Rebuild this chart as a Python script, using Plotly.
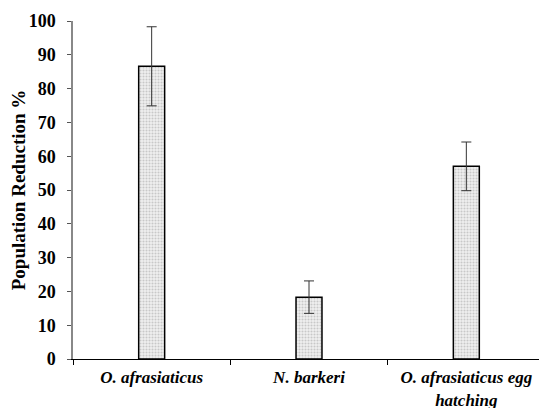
import plotly.graph_objects as go

categories = ["<i>O. afrasiaticus</i>", "<i>N. barkeri</i>", "<i>O. afrasiaticus egg</i><br><i>hatching</i>"]
values = [86.6, 18.3, 57.0]
errors = [11.7, 4.8, 7.2]
yticks = [0, 10, 20, 30, 40, 50, 60, 70, 80, 90, 100]

fig = go.Figure()
fig.add_trace(go.Bar(
    x=categories, y=values,
    width=0.165,
    marker=dict(
        color="white",
        line=dict(color="black", width=1.5),
        pattern=dict(shape=".", fgcolor="#a0a0a0", bgcolor="#f0f0f0", size=3, solidity=0.4),
    ),
    error_y=dict(type="data", array=errors, visible=True, color="#333333", thickness=1, width=5),
))

font = dict(family="Liberation Serif, Times New Roman, serif", color="black")
# page body has an 8px default margin, so the figure is sized/offset to fill the 547x408 window
fig.update_layout(
    width=539, height=400,
    margin=dict(l=65, r=2, t=13, b=49),
    plot_bgcolor="white", paper_bgcolor="white",
    showlegend=False,
    font=font,
)
fig.update_xaxes(
    type="category", tickson="boundaries", ticks="outside", ticklen=5, tickcolor="black",
    showline=True, linecolor="black", linewidth=1, showgrid=False, automargin=False,
    ticklabelstandoff=3,
    tickfont=dict(size=17, family="Liberation Serif", color="black", weight="bold"),
    range=[-0.5, 2.5],
)
fig.update_yaxes(
    range=[0, 100], tickvals=yticks, ticks="outside", ticklen=4, tickcolor="#555555",
    showline=True, linecolor="#888888", linewidth=1.5, showgrid=False, zeroline=False,
    ticklabelstandoff=8, automargin=False,
    tickfont=dict(size=18, family="Liberation Serif", color="black", weight="bold"),
    title=dict(text="Population Reduction %", font=dict(size=19, family="Liberation Serif", color="black", weight="bold"), standoff=8),
)
fig.write_html("out.html")
